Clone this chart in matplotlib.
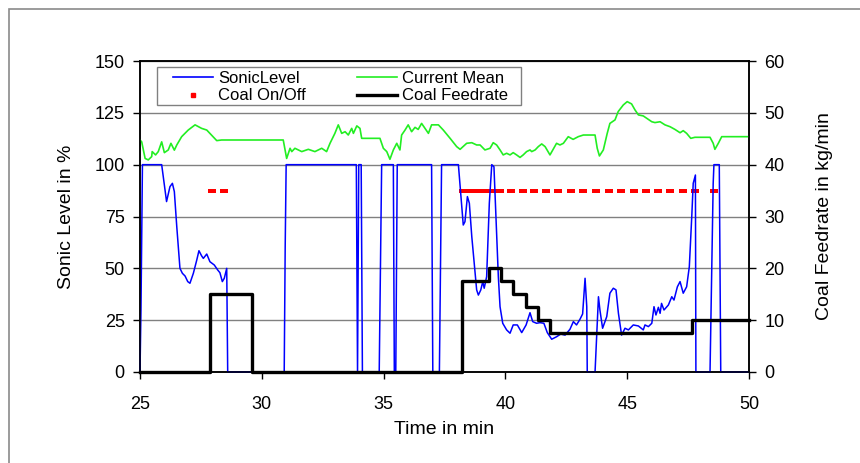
import matplotlib
matplotlib.use("Agg")
import matplotlib.pyplot as plt
from matplotlib.lines import Line2D
from matplotlib.patches import Rectangle

plt.rcParams['font.family'] = ['Liberation Sans', 'DejaVu Sans']

# ---- data ----
sonic_t = [25.0, 25.04, 25.1, 25.89, 26.09, 26.23, 26.33, 26.41, 26.51, 26.64, 26.74, 26.85, 26.96,
           27.05, 27.19, 27.33, 27.42, 27.53, 27.60, 27.74, 27.87, 28.05, 28.19, 28.28, 28.38, 28.46,
           28.56, 28.60, 30.92, 30.96, 31.0, 33.88, 33.93, 33.98, 34.08, 34.13, 34.82, 34.92, 35.40,
           35.44, 35.50, 35.56, 36.97, 37.02, 37.29, 37.38, 38.07, 38.27, 38.34, 38.44, 38.52, 38.62,
           38.72, 38.82, 38.89, 38.99, 39.07, 39.13, 39.23, 39.34, 39.44, 39.53, 39.61, 39.71, 39.78,
           39.89, 40.05, 40.19, 40.32, 40.49, 40.67, 40.85, 41.01, 41.12, 41.28, 41.42, 41.58, 41.72,
           41.90, 42.10, 42.27, 42.45, 42.65, 42.79, 42.92, 43.06, 43.17, 43.27, 43.34, 43.36, 43.68,
           43.82, 43.88, 43.99, 44.16, 44.29, 44.43, 44.54, 44.64, 44.77, 44.91, 45.05, 45.25, 45.46,
           45.66, 45.73, 45.87, 46.01, 46.10, 46.18, 46.28, 46.35, 46.41, 46.51, 46.69, 46.83, 46.92,
           47.06, 47.17, 47.30, 47.44, 47.55, 47.65, 47.71, 47.80, 47.82, 48.40, 48.53, 48.56, 48.78,
           48.84, 50.0]
sonic_v = [0, 30, 100, 100, 82.2, 89.4, 91, 87, 70, 50, 47.6, 46.3, 43.6,
           42.8, 47.6, 54, 58.5, 56, 54.8, 56.9, 53.2, 51.6, 49.2, 47.9, 43.6, 45.2,
           50, 0, 0, 60, 100, 100, 0, 100, 100, 0, 0, 100, 100,
           0, 0, 100, 100, 0, 0, 100, 100, 70.9, 72.5, 84.6, 81.4, 65.3,
           52.4, 39.6, 37.1, 39.6, 43.6, 40.4, 46, 81.4, 100, 99, 74.9, 46, 31.5,
           23.5, 20.3, 18.7, 22.7, 22.7, 19, 22.7, 28.6, 24.3, 23.5, 23.8, 23.5, 19,
           15.8, 17, 18.3, 17.8, 20.6, 24.3, 22.7, 25.4, 28, 45.2, 31.5, 0, 0,
           36.3, 29.9, 21.1, 26.7, 38, 40.4, 39.6, 28.3, 17.8, 21.1, 20.3, 22.7, 22.2,
           20.3, 22.7, 21.9, 23.5, 31.5, 27.5, 31.2, 28.3, 33.1, 29.9, 32.3, 36.3, 34.7,
           41.1, 43.6, 38, 41.1, 50.8, 74.9, 91, 95, 0, 0, 91, 100, 100,
           0, 0]

current_t = [25.0, 25.07, 25.21, 25.34, 25.48, 25.50, 25.64, 25.75, 25.89, 26.00, 26.16, 26.27, 26.41,
             26.51, 26.71, 26.98, 27.26, 27.53, 27.74, 28.15, 28.35, 30.88, 31.02, 31.16, 31.23, 31.36,
             31.64, 31.91, 32.18, 32.46, 32.66, 32.80, 33.00, 33.14, 33.28, 33.42, 33.55, 33.69, 33.76,
             33.90, 34.03, 34.10, 34.85, 34.99, 35.13, 35.26, 35.40, 35.54, 35.67, 35.74, 35.88, 36.01,
             36.15, 36.29, 36.42, 36.56, 36.70, 36.84, 36.97, 37.25, 37.45, 37.73, 38.00, 38.14, 38.41,
             38.62, 38.82, 38.96, 39.16, 39.37, 39.50, 39.64, 39.78, 39.91, 40.05, 40.19, 40.32, 40.46,
             40.60, 40.73, 40.87, 41.01, 41.08, 41.22, 41.35, 41.49, 41.63, 41.83, 41.96, 42.10, 42.24,
             42.38, 42.58, 42.78, 42.99, 43.20, 43.68, 43.77, 43.86, 44.02, 44.18, 44.29, 44.50, 44.63,
             44.84, 45.00, 45.18, 45.32, 45.46, 45.66, 45.80, 46.01, 46.14, 46.35, 46.55, 46.76, 46.96,
             47.17, 47.30, 47.44, 47.61, 47.78, 48.40, 48.53, 48.60, 48.74, 48.88, 50.0]
current_v = [111.9, 111, 103, 102.3, 103.9, 106.3, 104.7, 106.3, 111, 105.8, 107.1, 110.3, 107,
             109.5, 113.5, 116.7, 119.2, 117.5, 116.7, 111.6, 111.9, 111.9, 103, 107.9, 106.3, 107.9,
             106.3, 107.4, 106.3, 107.9, 106.3, 110.3, 115.1, 119.2, 115.1, 115.9, 114.3, 117.5, 115.1,
             118.7, 117.5, 112.7, 112.7, 107.9, 106.3, 102.6, 107.1, 110.3, 107.1, 114.3, 116.7, 119.2,
             115.9, 118, 117, 119.9, 117.5, 115.1, 119.2, 119.2, 116.7, 112.7, 108.7, 107.4, 110.3,
             110.6, 109.5, 109.5, 107.1, 107.9, 110.6, 109.5, 107.1, 104.7, 105.5, 104.7, 105.8, 104.7,
             103.5, 104.7, 106.3, 107.1, 106.3, 107.1, 108.7, 110, 108.7, 104.7, 107.4, 110.3, 109.5,
             110.3, 113.5, 112.2, 113.5, 114.3, 114.3, 107.9, 104.2, 107.1, 115.1, 119.9, 121.6, 125.6,
             128.8, 130.4, 129.3, 126.4, 124, 123.5, 122.4, 120.7, 120.3, 120.7, 119.2, 118.3, 117,
             115.4, 116.4, 115.1, 112.7, 113.2, 113.2, 110.3, 107.4, 110.3, 113.5, 113.5]

coal_on_t = [27.96, 28.45, 38.25, 38.52, 38.79, 39.06, 39.33, 39.56, 39.78, 40.23, 40.71, 41.19,
             41.67, 42.17, 42.69, 43.19, 43.72, 44.25, 44.75, 45.28, 45.77, 46.26, 46.76, 47.30,
             47.79, 48.56]
coal_on_v = [87.5] * len(coal_on_t)

feed_t = [25.0, 27.87, 29.58, 38.20, 39.34, 39.82, 40.31, 40.85, 41.34, 41.83, 47.65, 50.0]
feed_v = [0, 15, 0, 17.5, 20, 17.5, 15, 12.5, 10, 7.5, 10, 10]

x_ticks = [25, 30, 35, 40, 45, 50]
left_ticks = [0, 25, 50, 75, 100, 125, 150]
right_ticks = [0, 10, 20, 30, 40, 50, 60]

# ---- figure ----
W, H = 860, 463
AX_L, AX_T, AX_W, AX_H = 140, 61, 609, 311
fig = plt.figure(figsize=(W / 100, H / 100), dpi=100)
fig.patches.append(Rectangle((9 / W, -0.1), 1.2, 1 - 9 / H + 0.1, transform=fig.transFigure,
                             fill=False, edgecolor='#8a8a8a', linewidth=1.2))
ax = fig.add_axes([AX_L / W, 1 - (AX_T + AX_H) / H, AX_W / W, AX_H / H])
ax2 = ax.twinx()

ax.set_xlim(25, 50)
ax.set_ylim(0, 150)
ax2.set_ylim(0, 60)
ax.set_xticks(x_ticks)
ax.set_yticks(left_ticks)
ax2.set_yticks(right_ticks)
ax.yaxis.grid(True, color='#808080', linewidth=1.0)
ax.set_axisbelow(True)

rect = [(-1, -0.62), (1, -0.62), (1, 0.62), (-1, 0.62)]
ax.plot(coal_on_t, coal_on_v, linestyle='none', marker=rect, markersize=5.2,
        color='#ff0000', markeredgewidth=0, zorder=2)
ax.plot(sonic_t, sonic_v, color='#0000ff', linewidth=1.1, zorder=3, clip_on=False)
ax.plot(current_t, current_v, color='#22ee22', linewidth=1.2, zorder=3)
ax2.step(feed_t, feed_v, where='post', color='black', linewidth=2.4, clip_on=False)

for a in (ax, ax2):
    a.tick_params(direction='out', length=5, width=1, labelsize=13, colors='black')
    for s in a.spines.values():
        s.set_linewidth(1.1)
        s.set_color('black')
ax.tick_params(axis='x', pad=12)
ax.tick_params(axis='y', pad=6)
ax2.tick_params(axis='y', pad=6)

ax.set_xlabel('Time in min', fontsize=14, labelpad=6)
ax.set_ylabel('Sonic Level in %', fontsize=14, labelpad=14)
ax2.set_ylabel('Coal Feedrate in kg/min', fontsize=14, labelpad=22.5)

# legend frame drawn separately (pixel box 157..521 x 67..105)
ax2.add_patch(Rectangle(((157 - AX_L) / AX_W, 1 - (105 - AX_T) / AX_H),
                        (521 - 157) / AX_W, (105 - 67) / AX_H,
                        transform=ax2.transAxes, facecolor='white', edgecolor='#808080',
                        linewidth=1.0, zorder=4))
handles = [Line2D([], [], color='#0000ff', linewidth=1.2),
           Line2D([], [], color='#ff0000', marker='s', markersize=3.2, linestyle='none'),
           Line2D([], [], color='#22ee22', linewidth=1.2),
           Line2D([], [], color='black', linewidth=2.4)]
labels = ['SonicLevel', 'Coal On/Off', 'Current Mean', 'Coal Feedrate']
leg = ax2.legend(handles, labels, ncol=2, loc='upper left',
                 bbox_to_anchor=((173 - AX_L) / AX_W, 1 - (71 - AX_T) / AX_H),
                 borderaxespad=0, borderpad=0, fontsize=12, frameon=False,
                 handlelength=2.4, handletextpad=0.3, labelspacing=0.15,
                 numpoints=1, columnspacing=3.05)
leg.set_zorder(5)

fig.savefig('out.png', dpi=100)
